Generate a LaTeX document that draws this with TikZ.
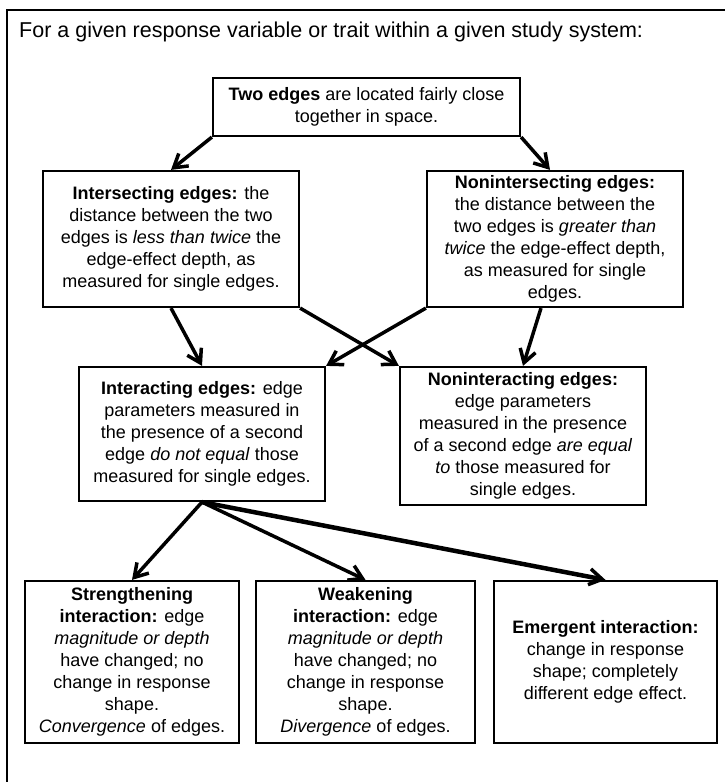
\documentclass[tikz,border=0pt]{standalone}
\usepackage{fontspec}
\setmainfont{Liberation Sans}
\usetikzlibrary{arrows.meta}

\begin{document}
\begin{tikzpicture}[x=1pt,y=-1pt,
  box/.style={draw,line width=2.2pt,align=center,inner sep=0pt,
    font=\fontsize{18}{22}\selectfont},
  arr/.style={line width=3.5pt,
    -{Straight Barb[length=13pt,width=16pt,line width=3.5pt]}}]
\useasboundingbox (0,0) rectangle (725,782);

% outer frame, runs off the page at right and bottom
\draw[line width=2pt] (7,10) rectangle (790,840);
\node[anchor=base west,inner sep=0pt,font=\fontsize{21.5}{26}\selectfont] (title) at (19,37)
  {For a given response variable or trait within a given study system:};

% boxes
\node[box,minimum width=307,minimum height=58] (two) at (366.5,107)
  {\textbf{Two edges} are located fairly close\\together in space.};
\node[box,minimum width=256,minimum height=136] (inter) at (171,239)
  {\textbf{Intersecting edges:} the\\distance between the two\\edges is \textit{less than twice} the\\edge-effect depth, as\\measured for single edges.};
\node[box,minimum width=256,minimum height=136] (noninter) at (555,239)
  {\textbf{Nonintersecting edges:}\\the distance between the\\two edges is \textit{greater than}\\\textit{twice} the edge-effect depth,\\as measured for single\\edges.};
\node[box,minimum width=246,minimum height=134] (interact) at (202,434)
  {\textbf{Interacting edges:} edge\\parameters measured in\\the presence of a second\\edge \textit{do not equal} those\\measured for single edges.};
\node[box,minimum width=246,minimum height=138] (noninteract) at (523,436)
  {\textbf{Noninteracting edges:}\\edge parameters\\measured in the presence\\of a second edge \textit{are equal}\\\textit{to} those measured for\\single edges.};
\node[box,minimum width=214,minimum height=162] (strength) at (132,662)
  {\textbf{Strengthening}\\\textbf{interaction:} edge\\\textit{magnitude or depth}\\have changed; no\\change in response\\shape.\\\textit{Convergence} of edges.};
\node[box,minimum width=219,minimum height=162] (weak) at (365.5,662)
  {\textbf{Weakening}\\\textbf{interaction:} edge\\\textit{magnitude or depth}\\have changed; no\\change in response\\shape.\\\textit{Divergence} of edges.};
\node[box,minimum width=223,minimum height=162] (emerg) at (605.5,662)
  {\textbf{Emergent interaction:}\\change in response\\shape; completely\\different edge effect.};

% arrows
\draw[arr] (two.south west) -- (inter.north);
\draw[arr] (two.south east) -- ([xshift=-5pt]noninter.north);
\draw[arr] (inter.south) -- (interact.north);
\draw[arr] (inter.south east) -- (noninteract.north west);
\draw[arr] (noninter.south west) -- (interact.north east);
\draw[arr] ([xshift=-14pt]noninter.south) -- (noninteract.north);
\foreach \t in {strength,weak} {
\draw[arr] (interact.south) -- (\t.north);
}
\draw[arr,line width=4.5pt] (interact.south) -- (emerg.north);

\end{tikzpicture}
\end{document}
